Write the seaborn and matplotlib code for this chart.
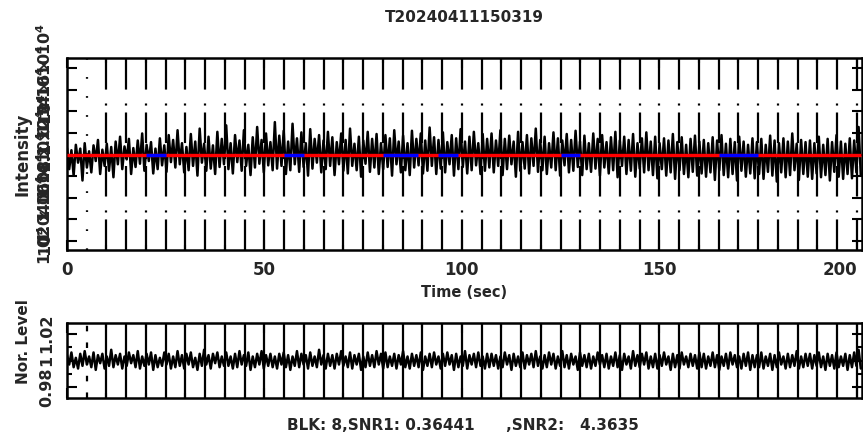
import numpy as np
import pandas as pd
import matplotlib
matplotlib.use("Agg")
import matplotlib.pyplot as plt
import seaborn as sns
from matplotlib.ticker import MultipleLocator

# ---------------- data ----------------
title = "T20240411150319"
time_start = 0.0
time_stop = 201.0
time_axis_end = 201.3

intensity_level = 10800
intensity_dev = [
    60, -135, 40, -195, 90, -75, 55, -240, 105, -120, 30, -165, 85, -60, 135, -180, 45, -105, 100, -150, 70, -210, 120, -90,
    165, -135, 75, -45, 145, -180, 60, -115, 130, -85, 195, -150, 90, -60, 115, -175, 55, -135, 150, -100, 85, -160, 180, -70,
    135, -120, 225, -90, 105, -165, 70, -145, 190, -105, 120, -195, 240, -75, 100, -150, 165, -130, 85, -180, 210, -115, 145, -90,
    270, -135, 105, -175, 180, -70, 130, -150, 225, -105, 90, -190, 160, -120, 255, -85, 135, -165, 195, -100, 115, -145, 300, -130,
    175, -105, 220, -180, 120, -145, 285, -90, 150, -160, 205, -115, 105, -195, 235, -130, 145, -75, 180, -165, 130, -135, 210, -105,
    160, -190, 115, -90, 195, -150, 135, -175, 240, -105, 100, -145, 165, -205, 130, -85, 210, -160, 145, -120, 190, -180, 105, -135,
    180, -115, 150, -195, 225, -90, 120, -165, 175, -145, 105, -190, 220, -120, 145, -100, 195, -175, 130, -150, 250, -105, 160, -180,
    135, -130, 205, -165, 115, -90, 180, -195, 150, -135, 235, -115, 120, -175, 165, -145, 210, -100, 105, -180, 190, -150, 145, -120,
    195, -165, 130, -105, 225, -190, 145, -135, 175, -90, 120, -205, 210, -150, 115, -130, 180, -175, 150, -105, 240, -160, 135, -145,
    165, -180, 105, -120, 205, -145, 150, -195, 130, -100, 190, -165, 135, -150, 220, -115, 120, -190, 175, -135, 105, -160, 195, -130,
    145, -195, 180, -120, 115, -175, 160, -145, 210, -210, 130, -105, 165, -180, 135, -150, 190, -205, 105, -130, 150, -165, 205, -145,
    120, -190, 165, -220, 105, -135, 150, -195, 130, -165, 190, -225, 115, -145, 160, -180, 90, -210, 145, -160, 175, -195, 120, -175,
    135, -205, 105, -165, 160, -235, 130, -145, 180, -190, 100, -210, 145, -180, 115, -240, 165, -150, 120, -205, 90, -175, 150, -220,
    115, -180, 145, -225, 90, -160, 175, -195, 130, -250, 105, -165, 150, -210, 120, -190, 195, -145, 100, -235, 135, -180, 115, -205,
    130, -225, 105, -175, 165, -210, 90, -190, 145, -240, 115, -160, 180, -205, 120, -225, 100, -180, 150, -220, 130, -165, 255, -195,
]

norm_dev_milli = [
    4, -3, 6, -5, 2, -6, 5, -4, 7, -3, 3, -5, 6, -7, 4, -2, 5, -6, 3, -4, 8, -5, 4, -3,
    5, -6, 3, -4, 6, -2, 4, -5, 7, -6, 3, -4, 5, -3, 6, -7, 4, -5, 2, -4, 6, -3, 5, -6,
    3, -5, 7, -4, 4, -6, 5, -3, 6, -5, 2, -7, 5, -4, 8, -3, 4, -6, 5, -2, 6, -5, 3, -4,
    6, -4, 3, -6, 5, -5, 7, -3, 4, -4, 6, -7, 3, -5, 5, -3, 7, -6, 4, -4, 5, -5, 3, -6,
    5, -3, 6, -5, 4, -7, 3, -4, 7, -5, 5, -3, 4, -6, 6, -4, 3, -5, 8, -3, 4, -6, 5, -4,
    4, -6, 5, -3, 7, -4, 3, -5, 6, -6, 4, -3, 5, -7, 3, -5, 6, -4, 4, -5, 7, -3, 5, -6,
    6, -5, 3, -4, 5, -6, 4, -3, 7, -5, 3, -6, 5, -4, 4, -5, 6, -7, 3, -4, 5, -5, 6, -3,
    3, -6, 5, -4, 6, -3, 4, -7, 5, -5, 3, -4, 7, -6, 4, -3, 5, -5, 6, -4, 3, -6, 5, -5,
    5, -4, 4, -6, 3, -5, 6, -3, 4, -7, 5, -4, 3, -5, 6, -6, 4, -3, 5, -5, 7, -4, 3, -6,
    4, -5, 6, -3, 5, -6, 3, -4, 7, -5, 4, -6, 5, -3, 3, -7, 6, -4, 4, -5, 5, -6, 3, -4,
    6, -3, 4, -5, 5, -6, 3, -4, 6, -5, 4, -7, 5, -3, 3, -6, 7, -4, 4, -5, 5, -3, 6, -6,
    3, -5, 5, -6, 4, -4, 6, -3, 3, -7, 5, -5, 4, -6, 6, -3, 3, -5, 5, -4, 4, -6, 6, -5,
    5, -6, 3, -4, 6, -5, 4, -7, 3, -4, 5, -6, 6, -3, 4, -5, 3, -6, 5, -4, 6, -7, 4, -5,
    4, -5, 6, -6, 3, -4, 5, -7, 4, -5, 6, -3, 3, -6, 5, -5, 4, -4, 7, -6, 3, -5, 5, -4,
    5, -6, 4, -4, 6, -5, 3, -7, 5, -4, 4, -6, 6, -5, 3, -4, 5, -7, 4, -5, 6, -4, 8, -6,
]

marker_times = list(range(5, 201, 5))
blk_starts = [20, 55, 80, 94, 125, 165]
blk_ends = [25, 60, 89, 99, 130, 175]

int_ylim = (9917, 11693)
int_ticks = [10000, 10200, 10400, 10600, 10800, 11000, 11200, 11400, 11600]
int_tick_labels = [r"$\mathbf{10^{4}}$", r"$\mathbf{1.02\times10^{4}}$", r"$\mathbf{1.04\times10^{4}}$",
                   r"$\mathbf{1.06\times10^{4}}$", r"$\mathbf{1.08\times10^{4}}$", r"$\mathbf{1.1\times10^{4}}$",
                   r"$\mathbf{1.12\times10^{4}}$", r"$\mathbf{1.14\times10^{4}}$", r"$\mathbf{1.16\times10^{4}}$"]
norm_ylim = (0.972, 1.028)
norm_ticks = [0.98, 1.0, 1.02]
norm_tick_labels = ["0.98", "1", "1.02"]
x_ticks = [0, 50, 100, 150, 200]
x_tick_labels = ["0", "50", "100", "150", "200"]
footer = "BLK: 8,SNR1: 0.36441      ,SNR2:   4.3635"

# ---------------- build ----------------
n = len(intensity_dev)
t = np.linspace(time_start, time_stop, n)
df = pd.DataFrame({
    "Time": t,
    "Intensity": intensity_level + np.array(intensity_dev, dtype=float),
    "Norm": 1.0 + np.array(norm_dev_milli, dtype=float) / 1000.0,
})

sns.set_style("ticks")
plt.rcParams["font.family"] = ["DejaVu Sans"]
plt.rcParams["font.weight"] = "bold"
plt.rcParams["lines.scale_dashes"] = False
plt.rcParams["mathtext.default"] = "bf"

W, H = 863, 443
fig = plt.figure(figsize=(W / 100, H / 100), dpi=100)
ax1 = fig.add_axes([67 / W, 1 - 250 / H, 795 / W, 192 / H])
ax2 = fig.add_axes([67 / W, 1 - 398 / H, 795 / W, 75 / H])

# top panel
sns.lineplot(data=df, x="Time", y="Intensity", ax=ax1, color="black", lw=1.8,
             estimator=None, sort=False, zorder=2)
for i, mt in enumerate(marker_times):
    ls = (0, (1.2, 12.5)) if i == 0 else (0, (22, 5, 1.5, 10))
    ax1.axvline(mt, color="black", lw=1.6, ls=ls, zorder=3)
ax1.hlines(intensity_level, time_start, time_stop, color="#ff0000", lw=2.4, zorder=4)
ax1.hlines([intensity_level] * len(blk_starts), blk_starts, blk_ends, color="#0000ff", lw=2.4, zorder=5)

ax1.set_xlim(0, time_axis_end)
ax1.set_ylim(*int_ylim)
ax1.set_xticks(x_ticks)
ax1.set_xticklabels(x_tick_labels, fontsize=12, fontweight="bold")
lbls = ax1.get_xticklabels()
lbls[-1].set_horizontalalignment("right")
ax1.xaxis.set_minor_locator(MultipleLocator(10))
ax1.set_yticks(int_ticks)
ax1.set_yticklabels(int_tick_labels, rotation=90, va="center", fontsize=11.5)
ax1.set_xlabel("Time (sec)", fontsize=10.5, fontweight="bold", labelpad=4)
ax1.set_ylabel("Intensity", fontsize=12, fontweight="bold")
ax1.yaxis.set_label_coords(-0.045, 0.5)
ax1.set_title(title, fontsize=11, fontweight="bold", pad=26)

# bottom panel
sns.lineplot(data=df, x="Time", y="Norm", ax=ax2, color="black", lw=1.8,
             estimator=None, sort=False, zorder=2)
for i, mt in enumerate(marker_times):
    ls = (0, (4, 8)) if i == 0 else "-"
    ax2.axvline(mt, color="black", lw=1.6, ls=ls, zorder=3)
ax2.set_xlim(0, time_axis_end)
ax2.set_ylim(*norm_ylim)
ax2.set_xticks(x_ticks)
ax2.set_xticklabels([])
ax2.xaxis.set_minor_locator(MultipleLocator(10))
ax2.set_yticks(norm_ticks)
ax2.set_yticklabels(norm_tick_labels, rotation=90, va="center", fontsize=11.5, fontweight="bold")
ax2.yaxis.set_minor_locator(MultipleLocator(0.01))
ax2.set_xlabel("")
ax2.set_ylabel("Nor. Level", fontsize=11, fontweight="bold")
ax2.yaxis.set_label_coords(-0.045, 0.75)

for ax in (ax1, ax2):
    for sp in ax.spines.values():
        sp.set_linewidth(1.8)
        sp.set_color("black")
    ax.tick_params(which="both", direction="in", top=True, right=True, color="black", width=1.5)
    ax.tick_params(which="major", length=7)
    ax.tick_params(which="minor", length=3.5)
    ax.tick_params(axis="x", which="major", pad=8)
    ax.tick_params(axis="y", which="major", pad=9)

fig.text(463 / W, 1 - 425 / H, footer, ha="center", va="center", fontsize=11, fontweight="bold")

fig.savefig("out.png", dpi=100, facecolor="white")
